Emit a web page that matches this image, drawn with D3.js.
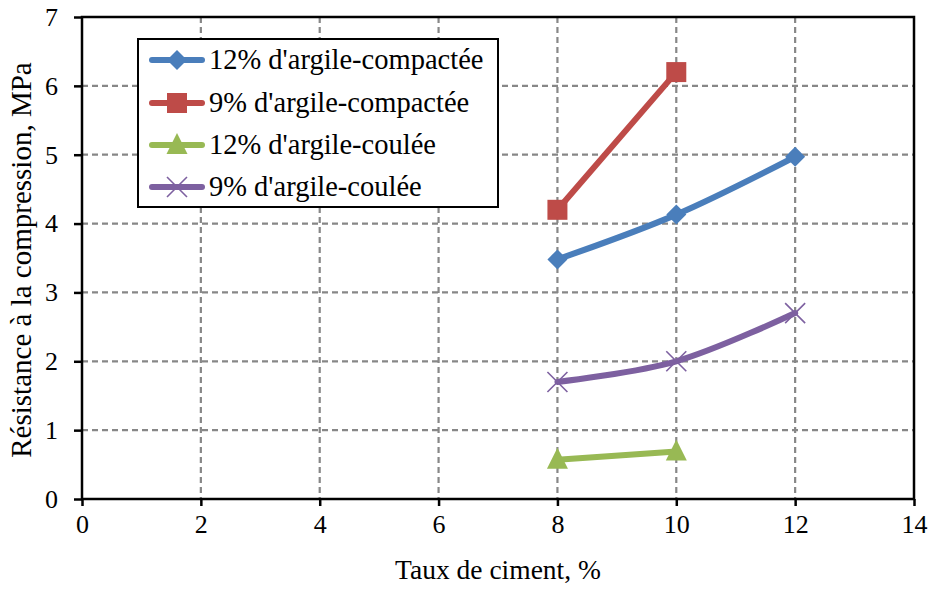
<!DOCTYPE html>
<html><head><meta charset="utf-8">
<script src="https://cdn.jsdelivr.net/npm/d3@7"></script>
<style>body{margin:0;background:#fff}svg{display:block}</style>
</head><body>
<svg id="c" width="935" height="592"></svg>
<script>
const seriesNames = ["12% d'argile-compactée","9% d'argile-compactée","12% d'argile-coulée","9% d'argile-coulée"];
const xBlue = [8,10,12], yBlue = [3.48,4.13,4.97];
const xRed = [8,10], yRed = [4.2,6.2];
const xGreen = [8,10], yGreen = [0.57,0.69];
const xPurple = [8,10,12], yPurple = [1.7,2.0,2.7];
const xTicks = [0,2,4,6,8,10,12,14];
const yTicks = [0,1,2,3,4,5,6,7];
const colors = ["#4A7EBB","#BE4B48","#98B954","#7D60A0"];
const markers = ["diamond","square","triangle","x"];
const xTitle = "Taux de ciment, %";
const yTitle = "Résistance à la compression, MPa";

const svg = d3.select("#c");
const L=82,R=914,T=17,B=499;
const x = d3.scaleLinear().domain([0,14]).range([L,R]);
const y = d3.scaleLinear().domain([0,7]).range([B,T]);
const font = "'Liberation Serif', serif";

// grid
svg.append("g").selectAll("line").data(xTicks.filter(d=>d>0&&d<14)).join("line")
  .attr("x1",d=>x(d)).attr("x2",d=>x(d)).attr("y1",T).attr("y2",B)
  .attr("stroke","#878787").attr("stroke-width",2.2).attr("stroke-dasharray","6,4");
svg.append("g").selectAll("line").data(yTicks.filter(d=>d>0&&d<7)).join("line")
  .attr("y1",d=>y(d)).attr("y2",d=>y(d)).attr("x1",L).attr("x2",R)
  .attr("stroke","#878787").attr("stroke-width",2.2).attr("stroke-dasharray","6,4");

// axes
const xa = svg.append("g").attr("transform",`translate(0,${B})`)
  .call(d3.axisBottom(x).tickValues(xTicks).tickFormat(d3.format("d")).tickSize(7).tickPadding(9));
const ya = svg.append("g").attr("transform",`translate(${L},0)`)
  .call(d3.axisLeft(y).tickValues(yTicks).tickFormat(d3.format("d")).tickSize(8).tickPadding(16));
[xa,ya].forEach(a=>{
  a.select(".domain").remove();
  a.selectAll(".tick line").attr("stroke","#000").attr("stroke-width",2.5);
  a.selectAll(".tick text").attr("font-family",font).attr("font-size",26).attr("fill","#000");
});
// frame
svg.append("rect").attr("x",L).attr("y",T).attr("width",R-L).attr("height",B-T)
  .attr("fill","none").attr("stroke","#000").attr("stroke-width",2.5);

// series
const data = [
  {xs:xBlue,ys:yBlue,smooth:true},
  {xs:xRed,ys:yRed,smooth:false},
  {xs:xGreen,ys:yGreen,smooth:false},
  {xs:xPurple,ys:yPurple,smooth:true}
];
function drawMarker(g,type,cx,cy,col){
  const s=10;
  if(type==="diamond") g.append("path").attr("d",`M${cx},${cy-s}L${cx+s},${cy}L${cx},${cy+s}L${cx-s},${cy}Z`).attr("fill",col);
  else if(type==="square") g.append("rect").attr("x",cx-10).attr("y",cy-10).attr("width",20).attr("height",20).attr("fill",col);
  else if(type==="triangle") g.append("path").attr("d",`M${cx},${cy-12}L${cx+10.5},${cy+9}L${cx-10.5},${cy+9}Z`).attr("fill",col);
  else if(type==="x") g.append("path").attr("d",`M${cx-10},${cy-10}L${cx+10},${cy+10}M${cx+10},${cy-10}L${cx-10},${cy+10}`).attr("stroke",col).attr("stroke-width",1.6).attr("fill","none");
}
data.forEach((s,i)=>{
  const pts = s.xs.map((v,j)=>[v,s.ys[j]]);
  const line = d3.line().x(d=>x(d[0])).y(d=>y(d[1])).curve(s.smooth?d3.curveCatmullRom.alpha(0.5):d3.curveLinear);
  svg.append("path").datum(pts).attr("d",line).attr("fill","none")
    .attr("stroke",colors[i]).attr("stroke-width",6).attr("stroke-linecap","round").attr("stroke-linejoin","round");
  const g = svg.append("g");
  pts.forEach(p=>drawMarker(g,markers[i],x(p[0]),y(p[1]),colors[i]));
});

// legend
const lg = svg.append("g");
lg.append("rect").attr("x",138).attr("y",39).attr("width",360).attr("height",168)
  .attr("fill","#fff").attr("stroke","#000").attr("stroke-width",2);
const ly = [60,103,145,187];
seriesNames.forEach((n,i)=>{
  lg.append("line").attr("x1",152).attr("x2",202).attr("y1",ly[i]).attr("y2",ly[i])
    .attr("stroke",colors[i]).attr("stroke-width",6).attr("stroke-linecap","round");
  drawMarker(lg,markers[i],177,ly[i],colors[i]);
  lg.append("text").attr("x",209).attr("y",ly[i]+9)
    .attr("font-family",font).attr("font-size",28.5).text(n);
});

// titles
svg.append("text").attr("x",(L+R)/2).attr("y",579).attr("text-anchor","middle")
  .attr("font-family",font).attr("font-size",27.5).text(xTitle);
svg.append("text").attr("transform",`translate(31,${(T+B)/2+2}) rotate(-90)`).attr("text-anchor","middle")
  .attr("font-family",font).attr("font-size",29).text(yTitle);
</script>
</body></html>
